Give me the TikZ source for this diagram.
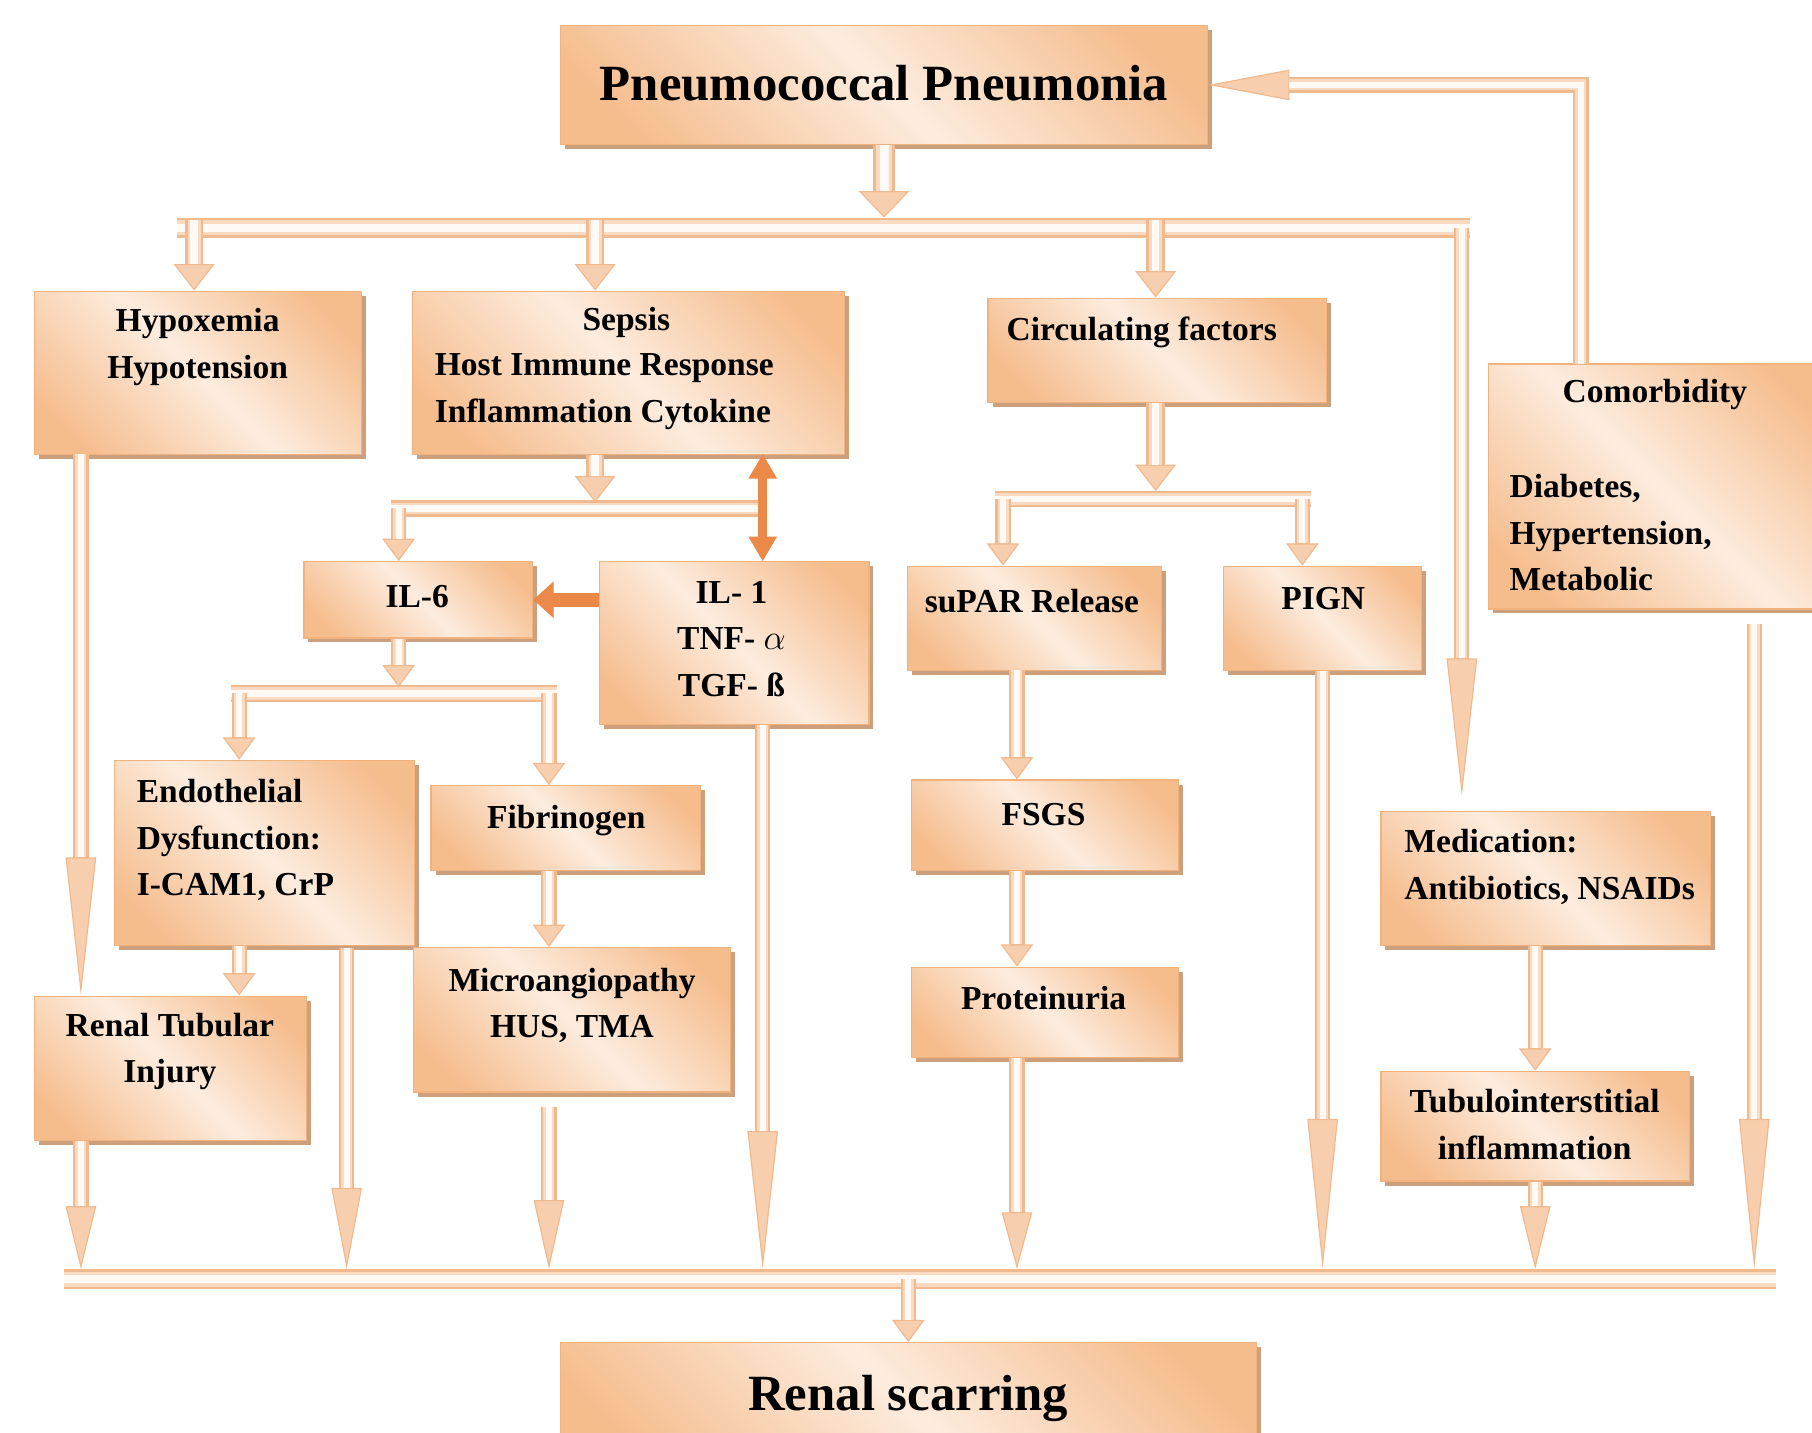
\documentclass[tikz,border=0pt]{standalone}
\usepackage{fontspec}
\setmainfont{Liberation Serif}
\usepackage{tikz}
\usetikzlibrary{positioning,fit,shadows,arrows.meta}

\definecolor{boxdark}{RGB}{245,188,140}
\definecolor{boxlight}{RGB}{253,236,222}
\definecolor{boxline}{RGB}{242,178,125}
\definecolor{boxshadow}{RGB}{205,160,125}
\definecolor{pipeedge}{RGB}{241,186,142}
\definecolor{pipemid}{RGB}{250,218,192}
\definecolor{pipecore}{RGB}{255,250,246}
\definecolor{pipehead}{RGB}{248,207,174}
\definecolor{hotorange}{RGB}{234,137,72}

\pgfdeclarehorizontalshading{boxshade}{100bp}{color(0bp)=(boxdark); color(22bp)=(boxdark); color(50bp)=(boxlight); color(78bp)=(boxdark); color(100bp)=(boxdark)}

\tikzset{
  box/.style={draw=boxline, line width=0.6pt, inner sep=0pt, shading=boxshade, shading angle=45,
    general shadow={fill=boxshadow, shadow xshift=2.2pt, shadow yshift=-2.2pt}},
  lbl/.style={inner sep=0pt, align=center, font=\bfseries\fontsize{16.5}{23}\selectfont},
  bigtxt/.style={inner sep=0pt, font=\bfseries\fontsize{25}{30}\selectfont},
  pipe/.style n args={3}{draw=pipeedge, line width=#1,
    -{Triangle[width=#2,length=#3,line width=0.6pt,fill=pipehead]},
    postaction={draw=pipemid, line width=0.72*#1, -, shorten >=#3},
    postaction={draw=pipecore, line width=0.4*#1, -, shorten >=#3}},
  bigstub/.style={pipe={11pt}{25pt}{13pt}},
  stub/.style={pipe={9pt}{20pt}{13pt}},
  smallstub/.style={pipe={7.5pt}{16pt}{11pt}},
  spike/.style={pipe={7.5pt}{15pt}{#1}},
  rail/.style={draw=pipeedge, line width=#1, shorten <=-4pt, shorten >=-4pt,
    postaction={draw=pipemid, line width=0.72*#1},
    postaction={draw=pipecore, line width=0.4*#1}},
  hottip/.tip={Triangle[width=14pt,length=12pt,line width=0.5pt]},
  hot/.style={draw=hotorange, line width=#1},
}

\begin{document}
\begin{tikzpicture}[x=0.2mm, y=-0.2mm]
\useasboundingbox (0,0) rectangle (1568,1240);

\node[box, fit={(485,22) (1045,125)}] (pneu) {};
\node[box, fit={(30,252) (313,393)}] (hypo) {};
\node[box, fit={(357,252) (731,393)}] (seps) {};
\node[box, fit={(855,258) (1148,348)}] (circ) {};
\node[box, fit={(1288,315) (1585,527)}] (comor) {};
\node[box, fit={(263,486) (461,552)}] (il6) {};
\node[box, fit={(519,486) (752,627)}] (il1) {};
\node[box, fit={(785,490) (1005,580)}] (supar) {};
\node[box, fit={(1059,490) (1230,580)}] (pign) {};
\node[box, fit={(99,658) (359,818)}] (endo) {};
\node[box, fit={(373,680) (606,753)}] (fib) {};
\node[box, fit={(358,820) (632,945)}] (micro) {};
\node[box, fit={(30,862) (265,987)}] (rti) {};
\node[box, fit={(789,675) (1020,753)}] (fsgs) {};
\node[box, fit={(789,837) (1020,915)}] (prot) {};
\node[box, fit={(1195,702) (1480,818)}] (med) {};
\node[box, fit={(1195,927) (1462,1022)}] (tub) {};
\node[box, fit={(485,1162) (1087,1270)}] (scar) {};

\node[bigtxt] (pneu-t) at (765,72) {Pneumococcal Pneumonia};
\node[lbl] (hypo-t) at (171,300) {Hypoxemia\\Hypotension};
\node[lbl] (seps-t) at (542,279) {Sepsis};
\node[lbl, align=left, anchor=west] (seps-u) at (376,339) {Host Immune Response\\Inflammation Cytokine};
\node[lbl] (circ-t) at (988,288) {Circulating factors};
\node[lbl] (comor-t) at (1432,341) {Comorbidity};
\node[lbl, align=left, anchor=west] (comor-u) at (1306,461) {Diabetes,\\Hypertension,\\Metabolic};
\node[lbl] (il6-t) at (361,516) {IL-6};
\node[lbl] (il1-t) at (633,553) {IL- 1\\TNF- $\alpha$\\TGF- ß};
\node[lbl] (supar-t) at (893,520) {suPAR Release};
\node[lbl] (pign-t) at (1145,518) {PIGN};
\node[lbl, align=left, anchor=west] (endo-t) at (118,727) {Endothelial\\Dysfunction:\\I-CAM1, CrP};
\node[lbl] (fib-t) at (490,710) {Fibrinogen};
\node[lbl] (micro-t) at (495,870) {Microangiopathy\\HUS, TMA};
\node[lbl] (rti-t) at (147,910) {Renal Tubular\\Injury};
\node[lbl] (fsgs-t) at (903,705) {FSGS};
\node[lbl] (prot-t) at (903,864) {Proteinuria};
\node[lbl, align=left, anchor=west] (med-t) at (1215,750) {Medication:\\Antibiotics, NSAIDs};
\node[lbl] (tub-t) at (1328,973) {Tubulointerstitial\\inflammation};
\node[bigtxt] (scar-t) at (786,1210) {Renal scarring};

\coordinate (tb-l) at (160,197);
\coordinate (tb-r) at (1265,197);
\coordinate (tb-h) at (168,190);
\coordinate (tb-s) at (515,190);
\coordinate (tb-c) at (1000,190);
\coordinate (co-up) at (1368,315);
\coordinate (co-dn) at (1518,540);
\coordinate (hy-dn) at (70,393);
\coordinate (se-il1) at (660,393);
\coordinate (b2-l) at (345,440);
\coordinate (b2-r) at (652,440);
\coordinate (b3-l) at (207,600);
\coordinate (b3-r) at (475,600);
\coordinate (b4-l) at (868,432);
\coordinate (b4-r) at (1127,432);
\coordinate (en-dn) at (300,820);
\coordinate (su-dn) at (880,580);
\coordinate (bb-l) at (62,1107);
\coordinate (bb-r) at (1530,1107);

\draw[bigstub] (pneu.south) -- ([yshift=5pt]pneu.south |- tb-l);
\draw[rail=10pt] (tb-l) -- (tb-r);
\draw[spike=68pt] (tb-r) -- ([yshift=7pt]tb-r |- med.north);
\draw[stub] (tb-h) -- (tb-h |- hypo.north);
\draw[stub] (tb-s) -- (tb-s |- seps.north);
\draw[stub] (tb-c) -- (tb-c |- circ.north);
\draw[spike=40pt] (co-up) -- (co-up |- pneu.east) -- (pneu.east);

\draw[spike=68pt] (hy-dn) -- (hy-dn |- rti.north);
\draw[rail=8pt] (b2-l) -- (b2-r);
\draw[stub] (tb-s |- seps.south) -- ([yshift=3pt]tb-s |- b2-l);
\draw[smallstub] (b2-l) -- (b2-l |- il6.north);
\draw[hot=4.5pt, hottip-hottip] (se-il1) -- (se-il1 |- il1.north);
\draw[hot=7pt, -{Triangle[width=18pt,length=10pt,line width=0.5pt]}] (il6.east -| il1.west) -- (il6.east);

\draw[rail=8.5pt] (b3-l) -- (b3-r);
\draw[smallstub] (b2-l |- il6.south) -- ([yshift=3pt]b2-l |- b3-l);
\draw[smallstub] (b3-l) -- (b3-l |- endo.north);
\draw[smallstub] (b3-r) -- (b3-r |- fib.north);
\draw[smallstub] (b3-l |- endo.south) -- (b3-l |- rti.north);
\draw[smallstub] (b3-r |- fib.south) -- (b3-r |- micro.north);

\draw[stub] (tb-c |- circ.south) -- ([yshift=4pt]tb-c |- b4-l);
\draw[rail=8pt] (b4-l) -- (b4-r);
\draw[smallstub] (b4-l) -- (b4-l |- supar.north);
\draw[smallstub] (b4-r) -- (b4-r |- pign.north);
\draw[smallstub] (su-dn) -- (su-dn |- fsgs.north);
\draw[smallstub] (su-dn |- fsgs.south) -- (su-dn |- prot.north);
\draw[smallstub] (tub.north |- med.south) -- (tub.north);

\draw[rail=10pt] (bb-l) -- (bb-r);
\draw[spike=31pt] (hy-dn |- rti.south) -- ([yshift=5pt]hy-dn |- bb-l);
\draw[spike=40pt] (en-dn) -- ([yshift=5pt]en-dn |- bb-l);
\draw[spike=34pt] ([yshift=-7pt]b3-r |- micro.south) -- ([yshift=5pt]b3-r |- bb-l);
\draw[spike=68pt] (se-il1 |- il1.south) -- ([yshift=5pt]se-il1 |- bb-l);
\draw[spike=28pt] (su-dn |- prot.south) -- ([yshift=5pt]su-dn |- bb-l);
\draw[spike=74pt] (pign.south) -- ([yshift=5pt]pign.south |- bb-l);
\draw[spike=31pt] (tub.south) -- ([yshift=5pt]tub.south |- bb-l);
\draw[spike=74pt] (co-dn) -- ([yshift=5pt]co-dn |- bb-l);
\draw[smallstub] (scar.north |- bb-l) -- (scar.north);

\end{tikzpicture}
\end{document}
